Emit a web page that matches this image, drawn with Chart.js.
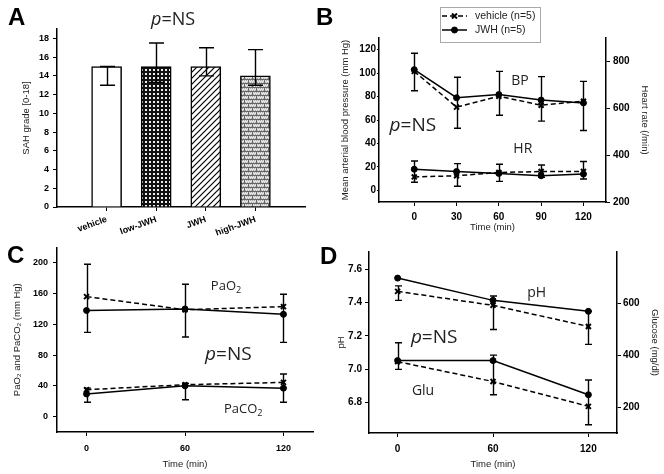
<!DOCTYPE html>
<html>
<head>
<meta charset="utf-8">
<script src="https://cdn.jsdelivr.net/npm/chart.js@4"></script>
<style>
  body { margin: 0; background: #fff; }
  #wrap { position: relative; width: 664px; height: 474px; overflow: hidden; }
  canvas { position: absolute; }
  .letter { position: absolute; font: bold 24px 'Liberation Sans', Arial, sans-serif; color: #000; line-height: 24px; }
</style>
</head>
<body>
<div id="wrap">
  <canvas id="chartA" width="332" height="237" style="left:0;top:0"></canvas>
  <canvas id="chartB" width="332" height="237" style="left:332px;top:0"></canvas>
  <canvas id="chartC" width="332" height="237" style="left:0;top:237px"></canvas>
  <canvas id="chartD" width="332" height="237" style="left:332px;top:237px"></canvas>
  <div class="letter" style="left:8px;top:5px">A</div>
  <div class="letter" style="left:316px;top:5px">B</div>
  <div class="letter" style="left:7px;top:243px">C</div>
  <div class="letter" style="left:320px;top:244px">D</div>
</div>
<script>
// ---- panel A: SAH grade
const groups = ['vehicle', 'low-JWH', 'JWH', 'high-JWH']
const sahMean = [15, 15, 15, 14]
const sahHi = [15, 17.5, 17, 16.8]
const sahLo = [13, 13.3, 14, 13]
const sahTicks = [0, 2, 4, 6, 8, 10, 12, 14, 16, 18]

// ---- panel B: blood pressure (left) and heart rate (right)
const timeB = [0, 30, 60, 90, 120]
const bpVehicle = [101.5, 71, 80.3, 72.6, 76]
const bpJwh = [103, 79, 81.7, 77, 74.6]
const bpHi = [117, 96.5, 101.5, 97, 93]
const bpLo = [85, 53, 64, 59, 51]
const hrVehicle = [307, 312, 326, 330, 330]
const hrJwh = [340, 330, 322, 312, 319]
const hrHi = [375, 364, 361, 358, 373]
const hrLo = [284, 267, 288, 305, 298]
const bpTicks = [0, 20, 40, 60, 80, 100, 120]
const hrTicks = [200, 400, 600, 800]

// ---- panels C and D: blood gases, pH and glucose
const timeCD = [0, 60, 120]
const pao2Vehicle = [156, 139, 143]
const pao2Jwh = [138, 140, 133]
const pao2Hi = [198, 172, 159]
const pao2Lo = [109.5, 103.5, 96.5]
const paco2Vehicle = [35, 41.5, 44.5]
const paco2Jwh = [29.5, 40, 37]
const paco2Hi = [37, 43, 55.5]
const paco2Lo = [18.6, 22, 18.6]
const gasTicks = [0, 40, 80, 120, 160, 200]

const phVehicle = [7.467, 7.383, 7.256]
const phJwh = [7.547, 7.413, 7.347]
const phHi = [7.50, 7.439, 7.347]
const phLo = [7.413, 7.238, 7.148]
const gluVehicle = [376, 299, 203]
const gluJwh = [380, 380, 248]
const gluHi = [449, 401, 305]
const gluLo = [346, 248, 132]
const phTicks = [6.8, 7.0, 7.2, 7.4, 7.6]
const gluTicks = [200, 400, 600]

const FONT = "'Liberation Sans', Arial, sans-serif"
const NOTE_FONT = "'Open Sans', sans-serif"

function axis(o) {
  return {
    type: 'linear',
    position: o.position,
    min: o.min,
    max: o.max,
    offset: false,
    afterBuildTicks: s => { s.ticks = o.ticks.map(v => ({ value: v })) },
    afterFit: s => { if (s.isHorizontal()) s.height = o.size; else s.width = o.size },
    border: { display: true, color: '#000', width: 1.5 },
    grid: { drawOnChartArea: false, offset: false, color: '#000', lineWidth: 1, tickLength: o.tickLength ?? 4 },
    ticks: {
      color: '#000',
      font: { family: FONT, size: o.fontSize || 9, weight: 'bold' },
      padding: o.pad ?? 3,
      autoSkip: false,
      maxRotation: o.rot || 0,
      minRotation: o.rot || 0,
      callback: o.fmt || (v => v)
    },
    title: { display: !!o.title, text: o.title, color: '#222', font: { family: FONT, size: 9.5 }, padding: { top: 4, bottom: 4 } }
  }
}

function line(label, values, xs, yAxisID, dashed) {
  return {
    label: label,
    data: values.map((v, i) => ({ x: xs[i], y: v })),
    yAxisID: yAxisID,
    borderColor: '#000',
    borderWidth: 1.5,
    borderDash: dashed ? [5, 3] : [],
    pointStyle: dashed ? 'crossRot' : 'circle',
    pointRadius: dashed ? 3.5 : 3,
    pointBorderWidth: dashed ? 2 : 1,
    pointBackgroundColor: '#000',
    pointBorderColor: '#000',
    tension: 0,
    fill: false
  }
}

// error bars go from errLo to errHi at every point of a dataset
const errorBars = {
  id: 'errorBars',
  afterDatasetsDraw(chart) {
    const ctx = chart.ctx
    chart.data.datasets.forEach((ds, i) => {
      if (!ds.errHi) return
      const meta = chart.getDatasetMeta(i)
      const yScale = chart.scales[meta.yAxisID]
      const cap = ds.capHalf || 3.5
      ctx.save()
      ctx.strokeStyle = '#000'
      ctx.lineWidth = 1.4
      meta.data.forEach((el, j) => {
        const x = Math.round(el.x) + 0.5
        const top = yScale.getPixelForValue(ds.errHi[j])
        const bot = yScale.getPixelForValue(ds.errLo[j])
        ctx.beginPath()
        ctx.moveTo(x, top); ctx.lineTo(x, bot)
        ctx.moveTo(x - cap, top); ctx.lineTo(x + cap, top)
        ctx.moveTo(x - cap, bot); ctx.lineTo(x + cap, bot)
        ctx.stroke()
      })
      ctx.restore()
    })
  }
}

// text written inside the plots: segments may be italic or subscript
function drawRich(ctx, segs, size, cx, cy) {
  const fontFor = s => (s.italic ? 'italic ' : '') + (s.sub ? size * 0.7 : size) + 'px ' + NOTE_FONT
  let total = 0
  segs.forEach(s => { ctx.font = fontFor(s); total += ctx.measureText(s.t).width })
  let x = cx - total / 2
  ctx.textBaseline = 'middle'
  ctx.textAlign = 'left'
  segs.forEach(s => {
    ctx.font = fontFor(s)
    ctx.fillText(s.t, x, s.sub ? cy + size * 0.3 : cy)
    x += ctx.measureText(s.t).width
  })
}

const notes = {
  id: 'notes',
  afterDraw(chart, args, opts) {
    const ctx = chart.ctx
    ctx.save()
    ctx.fillStyle = '#222'
    ;(opts.items || []).forEach(n => {
      const x = chart.scales.x.getPixelForValue(n.x)
      const y = chart.scales[n.axis || 'y'].getPixelForValue(n.y)
      drawRich(ctx, n.segs, n.size, x, y)
    })
    ctx.restore()
  }
}

const pNS = [{ t: 'p', italic: true }, { t: '=NS' }]

// legend in a box, as in panel B
const boxLegend = {
  id: 'boxLegend',
  afterDraw(chart) {
    const ctx = chart.ctx
    ctx.save()
    ctx.strokeStyle = '#aaa'
    ctx.lineWidth = 1
    ctx.strokeRect(108.5, 7.5, 100, 35)
    ;[chart.data.datasets[0], chart.data.datasets[1]].forEach((ds, i) => {
      const y = 16 + i * 14
      ctx.strokeStyle = '#000'
      ctx.fillStyle = '#000'
      ctx.lineWidth = 1.5
      ctx.setLineDash(ds.borderDash)
      ctx.beginPath()
      ctx.moveTo(110, y); ctx.lineTo(135, y)
      ctx.stroke()
      ctx.setLineDash([])
      ctx.lineWidth = ds.pointBorderWidth
      Chart.helpers.drawPoint(ctx, { pointStyle: ds.pointStyle, radius: ds.pointRadius, borderWidth: ds.pointBorderWidth, rotation: 0 }, 122.5, y)
      ctx.fillStyle = '#222'
      ctx.font = '10.5px ' + FONT
      ctx.textBaseline = 'middle'
      ctx.fillText(ds.label, 143, y)
    })
    ctx.restore()
  }
}

function makePattern(w, h, draw) {
  const c = document.createElement('canvas')
  c.width = w
  c.height = h
  draw(c.getContext('2d'))
  return c.getContext('2d').createPattern(c, 'repeat')
}

const gridPattern = makePattern(4, 4, g => {
  g.fillStyle = '#111'; g.fillRect(0, 0, 4, 4)
  g.fillStyle = '#eee'; g.fillRect(1, 1, 2, 2)
})
const hatchPattern = makePattern(6, 6, g => {
  g.fillStyle = '#fff'; g.fillRect(0, 0, 6, 6)
  g.strokeStyle = '#000'; g.lineWidth = 1.2
  g.beginPath()
  g.moveTo(-1, 7); g.lineTo(7, -1)
  g.moveTo(-1, 1); g.lineTo(1, -1)
  g.moveTo(5, 7); g.lineTo(7, 5)
  g.stroke()
})
const brickPattern = makePattern(8, 8, g => {
  g.fillStyle = '#e2e2e2'; g.fillRect(0, 0, 8, 8)
  g.fillStyle = '#a8a8a8'
  for (let y = 0; y < 8; y += 2) for (let x = (y / 2) % 2; x < 8; x += 2) g.fillRect(x, y, 1, 1)
  g.fillStyle = '#666'
  g.fillRect(0, 3, 8, 1); g.fillRect(0, 7, 8, 1)
  g.fillRect(0, 0, 1, 3); g.fillRect(4, 4, 1, 3)
})

const base = {
  responsive: false,
  animation: false,
  events: [],
  plugins: { legend: { display: false }, tooltip: { enabled: false } }
}

// ---- A
new Chart(document.getElementById('chartA'), {
  type: 'bar',
  data: {
    datasets: [{
      data: sahMean.map((v, i) => ({ x: i + 1, y: v })),
      backgroundColor: ['#fff', gridPattern, hatchPattern, brickPattern],
      borderColor: '#000',
      borderWidth: 1.5,
      borderSkipped: 'bottom',
      barThickness: 30,
      errHi: sahHi,
      errLo: sahLo,
      capHalf: 7.5
    }]
  },
  options: {
    ...base,
    layout: { padding: { left: 17, top: 29, right: 27, bottom: 0 } },
    scales: {
      x: axis({ position: 'bottom', min: 0, max: 5, ticks: [1, 2, 3, 4], size: 30, pad: 3, rot: 20, fmt: v => groups[v - 1] }),
      y: axis({ position: 'left', min: 0, max: 19, ticks: sahTicks, size: 40, pad: 4, title: 'SAH grade [0-18]' })
    },
    plugins: {
      ...base.plugins,
      notes: { items: [{ x: 2.34, y: 20, size: 18, segs: pNS }] }
    }
  },
  plugins: [errorBars, notes]
})

// ---- B
const bpJwhSet = line('JWH (n=5)', bpJwh, timeB, 'y', false)
bpJwhSet.errHi = bpHi
bpJwhSet.errLo = bpLo
const hrJwhSet = line('JWH (n=5)', hrJwh, timeB, 'y2', false)
hrJwhSet.errHi = hrHi
hrJwhSet.errLo = hrLo

new Chart(document.getElementById('chartB'), {
  type: 'line',
  data: {
    datasets: [
      line('vehicle (n=5)', bpVehicle, timeB, 'y', true),
      bpJwhSet,
      line('vehicle (n=5)', hrVehicle, timeB, 'y2', true),
      hrJwhSet
    ]
  },
  options: {
    ...base,
    layout: { padding: { left: 4, top: 38, right: 10, bottom: 0 } },
    scales: {
      x: axis({ position: 'bottom', min: -25, max: 136, ticks: timeB, size: 35, pad: 5, fontSize: 10, title: 'Time (min)' }),
      y: axis({ position: 'left', min: -10, max: 130, ticks: bpTicks, size: 43, tickLength: 2, pad: 1, fontSize: 10, title: 'Mean arterial blood pressure (mm Hg)' }),
      y2: axis({ position: 'right', min: 200, max: 900, ticks: hrTicks, size: 48, pad: 3, fontSize: 10, title: 'Heart rate (/min)' })
    },
    plugins: {
      ...base.plugins,
      notes: {
        items: [
          { x: 75, y: 93.6, size: 14, segs: [{ t: 'BP' }] },
          { x: 77, y: 35, size: 14, segs: [{ t: 'HR' }] },
          { x: -1, y: 55.5, size: 19, segs: pNS }
        ]
      }
    }
  },
  plugins: [errorBars, notes, boxLegend]
})

// ---- C
const pao2JwhSet = line('JWH', pao2Jwh, timeCD, 'y', false)
pao2JwhSet.errHi = pao2Hi
pao2JwhSet.errLo = pao2Lo
const paco2JwhSet = line('JWH', paco2Jwh, timeCD, 'y', false)
paco2JwhSet.errHi = paco2Hi
paco2JwhSet.errLo = paco2Lo

new Chart(document.getElementById('chartC'), {
  type: 'line',
  data: {
    datasets: [
      line('vehicle', pao2Vehicle, timeCD, 'y', true),
      pao2JwhSet,
      line('vehicle', paco2Vehicle, timeCD, 'y', true),
      paco2JwhSet
    ]
  },
  options: {
    ...base,
    layout: { padding: { left: 8, top: 10, right: 19, bottom: 0 } },
    scales: {
      x: axis({ position: 'bottom', min: -18, max: 138, ticks: timeCD, size: 42, pad: 7, title: 'Time (min)' }),
      y: axis({ position: 'left', min: -20, max: 220, ticks: gasTicks, size: 49, pad: 5, title: 'PaO₂ and PaCO₂ (mm Hg)' })
    },
    plugins: {
      ...base.plugins,
      notes: {
        items: [
          { x: 85, y: 169, size: 13, segs: [{ t: 'PaO' }, { t: '2', sub: true }] },
          { x: 95.5, y: 9, size: 13, segs: [{ t: 'PaCO' }, { t: '2', sub: true }] },
          { x: 86.4, y: 80.5, size: 19, segs: pNS }
        ]
      }
    }
  },
  plugins: [errorBars, notes]
})

// ---- D
const phJwhSet = line('JWH', phJwh, timeCD, 'y', false)
phJwhSet.errHi = phHi
phJwhSet.errLo = phLo
const gluJwhSet = line('JWH', gluJwh, timeCD, 'y2', false)
gluJwhSet.errHi = gluHi
gluJwhSet.errLo = gluLo

new Chart(document.getElementById('chartD'), {
  type: 'line',
  data: {
    datasets: [
      line('vehicle', phVehicle, timeCD, 'y', true),
      phJwhSet,
      line('vehicle', gluVehicle, timeCD, 'y2', true),
      gluJwhSet
    ]
  },
  options: {
    ...base,
    layout: { padding: { left: 0, top: 15, right: 0, bottom: 0 } },
    scales: {
      x: axis({ position: 'bottom', min: -18, max: 138, ticks: timeCD, size: 41, pad: 6, fontSize: 10, title: 'Time (min)' }),
      y: axis({ position: 'left', min: 6.615, max: 7.704, ticks: phTicks, size: 37, pad: 3, fontSize: 10, title: 'pH', fmt: v => v.toFixed(1) }),
      y2: axis({ position: 'right', min: 100, max: 800, ticks: gluTicks, size: 47, pad: 2, fontSize: 10, title: 'Glucose (mg/dl)' })
    },
    plugins: {
      ...base.plugins,
      notes: {
        items: [
          { x: 87.5, y: 7.457, size: 14, segs: [{ t: 'pH' }] },
          { x: 16, y: 6.866, size: 14, segs: [{ t: 'Glu' }] },
          { x: 23, y: 7.192, size: 19, segs: pNS }
        ]
      }
    }
  },
  plugins: [errorBars, notes]
})
</script>
</body>
</html>
